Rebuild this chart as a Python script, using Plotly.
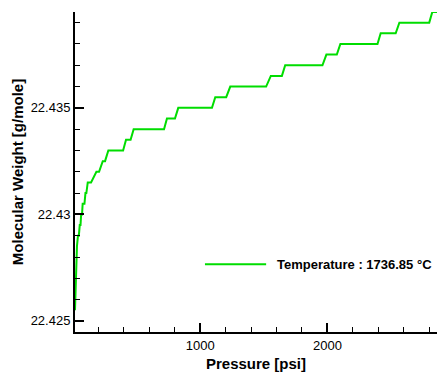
import plotly.graph_objects as go

# Molecular weight of the gas vs. pressure at a fixed temperature
pressure = [14.7, 18, 22, 26, 30, 38, 45, 52, 58, 63, 70, 75, 89, 97, 104, 115, 141,
            183, 204, 233, 251, 277, 393, 416, 452, 476, 715, 738, 801, 827, 1092,
            1118, 1204, 1236, 1518, 1555, 1642, 1668, 1961, 1992, 2074, 2102, 2394,
            2419, 2537, 2566, 2801, 2825, 2862]
mol_weight = [22.4255, 22.4265, 22.4275, 22.428, 22.4285, 22.429, 22.429, 22.4295,
              22.4295, 22.430, 22.430, 22.4305, 22.4305, 22.431, 22.431, 22.4315,
              22.4315, 22.432, 22.432, 22.4325, 22.4325, 22.433, 22.433, 22.4335,
              22.4335, 22.434, 22.434, 22.4345, 22.4345, 22.435, 22.435, 22.4355,
              22.4355, 22.436, 22.436, 22.4365, 22.4365, 22.437, 22.437, 22.4375,
              22.4375, 22.438, 22.438, 22.4385, 22.4385, 22.439, 22.439, 22.4395,
              22.4395]

series_name = "Temperature : 1736.85 °C"
x_ticks = [1000, 2000]
x_tick_labels = ["1000", "2000"]
y_ticks = [22.425, 22.430, 22.435]
y_tick_labels = ["22.425", "22.43", "22.435"]

GREEN = "#00dd00"
FONT = "Arial, Liberation Sans, sans-serif"

fig = go.Figure()
fig.add_trace(go.Scatter(x=pressure, y=mol_weight, mode="lines", name=series_name,
                         line=dict(color=GREEN, width=2), showlegend=False))

# Legend drawn as a sample line plus label
fig.add_shape(type="line", xref="paper", yref="paper",
              x0=0.359, x1=0.528, y0=0.212, y1=0.212,
              line=dict(color=GREEN, width=2))
fig.add_annotation(xref="paper", yref="paper", x=0.553, y=0.212,
                   xanchor="left", yanchor="middle", showarrow=False,
                   text="<b>" + series_name + "</b>",
                   font=dict(family=FONT, size=13, color="black"))

fig.update_layout(
    width=437, height=372,
    margin=dict(l=75, r=0, t=12, b=40),
    paper_bgcolor="white", plot_bgcolor="white",
    font=dict(family=FONT, color="black"),
)
fig.update_xaxes(
    range=[14.7, 2862], showgrid=False, zeroline=False,
    showline=True, linecolor="black", linewidth=2,
    ticks="inside", ticklen=9, tickwidth=2, tickcolor="black",
    tickvals=x_ticks, ticktext=x_tick_labels,
    tickfont=dict(size=13),
    minor=dict(dtick=200, tick0=0, ticks="inside", ticklen=5, tickwidth=1,
               tickcolor="black", showgrid=False),
    title=dict(text="<b>Pressure [psi]</b>", font=dict(size=15), standoff=7),
)
fig.update_yaxes(
    range=[22.42448, 22.4395], showgrid=False, zeroline=False,
    showline=True, linecolor="black", linewidth=2,
    ticks="inside", ticklen=9, tickwidth=2, tickcolor="black",
    tickvals=y_ticks, ticktext=y_tick_labels,
    tickfont=dict(size=13),
    minor=dict(dtick=0.001, tick0=22.425, ticks="inside", ticklen=5, tickwidth=1,
               tickcolor="black", showgrid=False),
    title=dict(text="<b>Molecular Weight [g/mole]</b>", font=dict(size=15), standoff=3),
)

fig.write_html("out.html")
